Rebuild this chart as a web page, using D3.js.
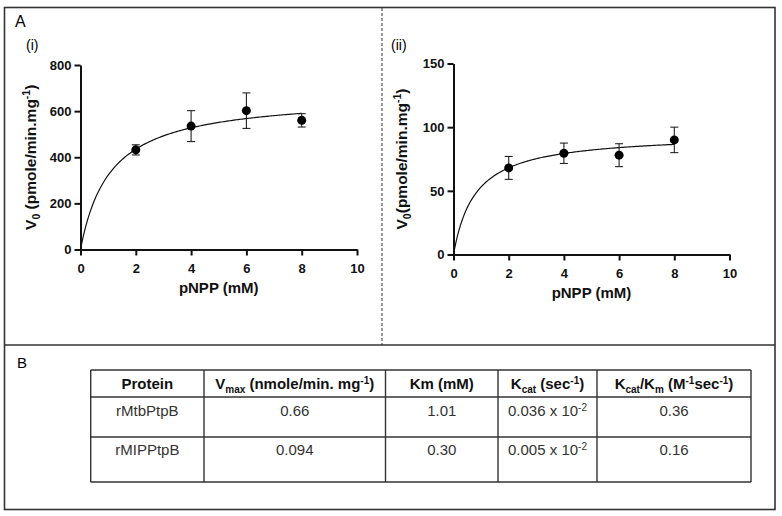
<!DOCTYPE html>
<html><head><meta charset="utf-8">
<script src="https://cdn.jsdelivr.net/npm/d3@7"></script>
<style>
html,body{margin:0;padding:0;background:#fff;}
svg{display:block;font-family:"Liberation Sans",Arial,sans-serif;}
</style></head>
<body>
<svg id="fig" width="782" height="516"></svg>
<script>
// ---- data ----
const conc = [2, 4, 6, 8];                 // pNPP (mM)
const v0Mtb = [432, 535, 602, 560];        // panel (i) mean V0
const errMtb = [22, 67, 77, 29];           // panel (i) error
const v0Mlp = [68, 79.5, 78, 90];          // panel (ii) mean V0
const errMlp = [9, 8, 9, 10];              // panel (ii) error
const fitVmax = [670, 95];                 // fitted Vmax per panel
const fitKm = [1.08, 0.79];                // fitted Km per panel
const xTicks = [0, 2, 4, 6, 8, 10];
const yTicksMtb = [0, 200, 400, 600, 800];
const yTicksMlp = [0, 50, 100, 150];

const proteins = ["rMtbPtpB", "rMIPPtpB"];
const vmaxVals = ["0.66", "0.094"];
const kmVals = ["1.01", "0.30"];
const kcatVals = ["0.036", "0.005"];
const kcatKmVals = ["0.36", "0.16"];

const svg = d3.select("#fig");

// frame
svg.append("rect").attr("x", 4.5).attr("y", 7.5).attr("width", 770.5).attr("height", 502)
  .attr("fill", "none").attr("stroke", "#333").attr("stroke-width", 1.6);
svg.append("line").attr("x1", 4.5).attr("x2", 775).attr("y1", 345).attr("y2", 345)
  .attr("stroke", "#333").attr("stroke-width", 1.6);
svg.append("line").attr("x1", 382).attr("x2", 382).attr("y1", 8).attr("y2", 345)
  .attr("stroke", "#333").attr("stroke-width", 1).attr("stroke-dasharray", "3,2");

svg.append("text").attr("x", 15).attr("y", 27).attr("font-size", 16).text("A");
svg.append("text").attr("x", 17).attr("y", 368).attr("font-size", 15).text("B");

function panel(cfg) {
  const x = d3.scaleLinear().domain([0, 10]).range([cfg.x0, cfg.x1]);
  const y = d3.scaleLinear().domain([0, cfg.ymax]).range([cfg.y0, cfg.y1]);
  const g = svg.append("g");

  g.append("text").attr("x", cfg.labX).attr("y", 49.5).attr("font-size", 14).text(cfg.label);

  const xa = g.append("g").attr("transform", `translate(0,${cfg.y0})`)
    .call(d3.axisBottom(x).tickValues(xTicks).tickSize(6).tickSizeOuter(0).tickPadding(8).tickFormat(d3.format("d")));
  const ya = g.append("g").attr("transform", `translate(${cfg.x0},0)`)
    .call(d3.axisLeft(y).tickValues(cfg.yTicks).tickSize(6).tickSizeOuter(0).tickPadding(3).tickFormat(d3.format("d")));
  [xa, ya].forEach(a => {
    a.selectAll("path,line").attr("stroke", "#111").attr("stroke-width", 2);
    a.selectAll("text").attr("font-size", 13).attr("font-weight", "bold").attr("fill", "#111")
      .attr("font-family", '"Liberation Sans",Arial,sans-serif');
  });

  // x title
  g.append("text").attr("x", (cfg.x0 + cfg.x1) / 2).attr("y", cfg.y0 + 43)
    .attr("text-anchor", "middle").attr("font-size", 15).attr("font-weight", "bold").attr("fill", "#111")
    .text("pNPP (mM)");

  // y title
  const cy = (cfg.y0 + cfg.y1) / 2;
  const yt = g.append("text").attr("transform", `translate(${cfg.ytx},${cy}) rotate(-90)`)
    .attr("text-anchor", "middle").attr("font-size", 15.5).attr("font-weight", "bold").attr("fill", "#111");
  yt.append("tspan").text("V");
  yt.append("tspan").attr("dy", 4).attr("font-size", 10.5).text("0");
  yt.append("tspan").attr("dy", -4).text(cfg.gap + "(pmole/min.mg");
  yt.append("tspan").attr("dy", -6).attr("font-size", 10.5).text("-1");
  yt.append("tspan").attr("dy", 6).text(")");

  // fitted curve
  const ss = d3.range(0, 8.0001, 0.05);
  const line = d3.line().x(s => x(s)).y(s => y(cfg.vmax * s / (cfg.km + s))).curve(d3.curveLinear);
  g.append("path").datum(ss).attr("d", line).attr("fill", "none").attr("stroke", "#111").attr("stroke-width", 1.2);

  // error bars
  const eb = g.append("g").attr("stroke", "#222").attr("stroke-width", 1.1);
  conc.forEach((c, i) => {
    const v = cfg.vals[i], e = cfg.errs[i];
    eb.append("line").attr("x1", x(c)).attr("x2", x(c)).attr("y1", y(v - e)).attr("y2", y(v + e));
    eb.append("line").attr("x1", x(c) - 4).attr("x2", x(c) + 4).attr("y1", y(v - e)).attr("y2", y(v - e));
    eb.append("line").attr("x1", x(c) - 4).attr("x2", x(c) + 4).attr("y1", y(v + e)).attr("y2", y(v + e));
  });
  g.selectAll("circle.pt").data(conc).enter().append("circle")
    .attr("cx", d => x(d)).attr("cy", (d, i) => y(cfg.vals[i])).attr("r", 4.5).attr("fill", "#000");
}

panel({x0: 80.5, x1: 357, y0: 249.5, y1: 65, ymax: 800, yTicks: yTicksMtb,
  vals: v0Mtb, errs: errMtb, vmax: fitVmax[0], km: fitKm[0], label: "(i)", labX: 26, ytx: 36, gap: " "});
panel({x0: 453.5, x1: 729.5, y0: 254.5, y1: 63.5, ymax: 150, yTicks: yTicksMlp,
  vals: v0Mlp, errs: errMlp, vmax: fitVmax[1], km: fitKm[1], label: "(ii)", labX: 391, ytx: 407, gap: ""});

// ---- table ----
const colX = [90.7, 204, 385.5, 498, 597, 751];
const rowY = [370, 397, 437, 482];
const tg = svg.append("g");
colX.forEach(cx => tg.append("line").attr("x1", cx).attr("x2", cx).attr("y1", rowY[0]).attr("y2", rowY[3])
  .attr("stroke", "#333").attr("stroke-width", 1.4));
rowY.forEach(ry => tg.append("line").attr("x1", colX[0]).attr("x2", colX[5]).attr("y1", ry).attr("y2", ry)
  .attr("stroke", "#333").attr("stroke-width", 1.4));
const mid = i => (colX[i] + colX[i + 1]) / 2;

function cell(i, y, parts, bold) {
  const t = tg.append("text").attr("x", mid(i)).attr("y", y).attr("text-anchor", "middle")
    .attr("font-size", 15).attr("font-weight", bold ? "bold" : "normal").attr("fill", bold ? "#111" : "#333");
  let shift = 0;
  parts.forEach(p => {
    const s = p[1] === "sub" ? 4 : p[1] === "sup" ? -5 : 0;
    const ts = t.append("tspan").attr("dy", s - shift).text(p[0]);
    if (s !== 0) ts.attr("font-size", 10);
    shift = s;
  });
}
const hy = 389;
cell(0, hy, [["Protein"]], true);
cell(1, hy, [["V"], ["max", "sub"], [" (nmole/min. mg"], ["-1", "sup"], [")"]], true);
cell(2, hy, [["Km (mM)"]], true);
cell(3, hy, [["K"], ["cat", "sub"], [" (sec"], ["-1", "sup"], [")"]], true);
cell(4, hy, [["K"], ["cat", "sub"], ["/K"], ["m", "sub"], [" (M"], ["-1", "sup"], ["sec"], ["-1", "sup"], [")"]], true);

const rowBase = [416, 455];
proteins.forEach((p, r) => {
  const yy = rowBase[r];
  cell(0, yy, [[p]], false);
  cell(1, yy, [[vmaxVals[r]]], false);
  cell(2, yy, [[kmVals[r]]], false);
  cell(3, yy, [[kcatVals[r] + " x 10"], ["-2", "sup"]], false);
  cell(4, yy, [[kcatKmVals[r]]], false);
});
</script>
</body></html>
